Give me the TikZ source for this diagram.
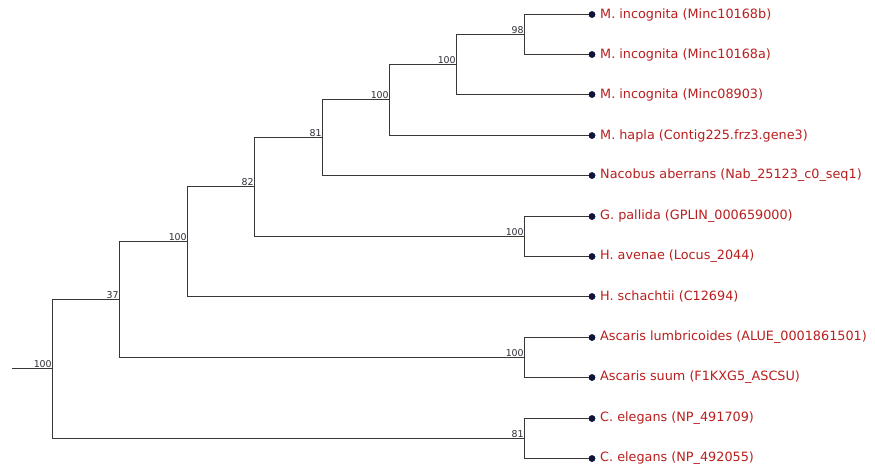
\documentclass[tikz,border=0pt]{standalone}
\usepackage{fontspec}
\setmainfont{DejaVu Sans}
\definecolor{branch}{RGB}{55,55,55}
\definecolor{leafred}{RGB}{185,30,30}
\definecolor{dotblue}{RGB}{15,20,60}
\definecolor{boot}{RGB}{45,45,55}
\begin{document}
\begin{tikzpicture}[x=1pt,y=-1pt,
  br/.style={draw=branch,line width=1.6pt},
  dot/.style={circle,fill=dotblue,inner sep=0pt,minimum size=6.5pt},
  leaflab/.style={anchor=west,text=leafred,font=\fontsize{12.8}{14}\selectfont,inner sep=0pt},
  bs/.style={anchor=south east,text=boot,font=\fontsize{9.4}{10}\selectfont,inner sep=0.6pt}]
\useasboundingbox (0,0) rectangle (875,469);
% leaves
\foreach \i/\y/\t in {0/14.5/{M. incognita (Minc10168b)},1/54.5/{M. incognita (Minc10168a)},2/94.5/{M. incognita (Minc08903)},3/135.5/{M. hapla (Contig225.frz3.gene3)},4/175.5/{Nacobus aberrans (Nab\_25123\_c0\_seq1)},5/216.5/{G. pallida (GPLIN\_000659000)},6/256.5/{H. avenae (Locus\_2044)},7/296.5/{H. schachtii (C12694)},8/337.5/{Ascaris lumbricoides (ALUE\_0001861501)},9/377.5/{Ascaris suum (F1KXG5\_ASCSU)},10/418.5/{C. elegans (NP\_491709)},11/458.5/{C. elegans (NP\_492055)}}{
  \node[dot] (L\i) at (592,\y) {};
  \node[leaflab] (T\i) at (600,\y) {\t};
}
% internal nodes
\coordinate (n98) at (524.5,34.5);
\coordinate (nM) at (456.5,64.5);
\coordinate (nH) at (389.5,99.5);
\coordinate (n81) at (322.5,137.5);
\coordinate (nG) at (524.5,236.5);
\coordinate (n82) at (254.5,186.5);
\coordinate (nA) at (187.5,241.5);
\coordinate (nAs) at (524.5,357.5);
\coordinate (n37) at (119.5,299.5);
\coordinate (nC) at (524.5,438.5);
\coordinate (root) at (52.5,368.5);
\coordinate (r0) at (12,368.5);
% branches
\draw[br] (r0) -- (root);
\draw[br] (root) |- (n37);
\draw[br] (root) |- (nC);
\draw[br] (n37) |- (nA);
\draw[br] (n37) |- (nAs);
\draw[br] (nA) |- (n82);
\draw[br] (nA) |- (L7.center);
\draw[br] (n82) |- (n81);
\draw[br] (n82) |- (nG);
\draw[br] (n81) |- (nH);
\draw[br] (n81) |- (L4.center);
\draw[br] (nH) |- (nM);
\draw[br] (nH) |- (L3.center);
\draw[br] (nM) |- (n98);
\draw[br] (nM) |- (L2.center);
\draw[br] (n98) |- (L0.center);
\draw[br] (n98) |- (L1.center);
\draw[br] (nG) |- (L5.center);
\draw[br] (nG) |- (L6.center);
\draw[br] (nAs) |- (L8.center);
\draw[br] (nAs) |- (L9.center);
\draw[br] (nC) |- (L10.center);
\draw[br] (nC) |- (L11.center);
% redraw dots on top
\foreach \i in {0,...,11}{\fill[dotblue] (L\i) circle (3.25pt);}
% bootstrap labels
\node[bs] (b98) at (n98) {98};
\node[bs] (bM) at (nM) {100};
\node[bs] (bH) at (nH) {100};
\node[bs] (b81) at (n81) {81};
\node[bs] (bG) at (nG) {100};
\node[bs] (b82) at (n82) {82};
\node[bs] (bA) at (nA) {100};
\node[bs] (bAs) at (nAs) {100};
\node[bs] (b37) at (n37) {37};
\node[bs] (bC) at (nC) {81};
\node[bs] (broot) at (root) {100};
\end{tikzpicture}
\end{document}
